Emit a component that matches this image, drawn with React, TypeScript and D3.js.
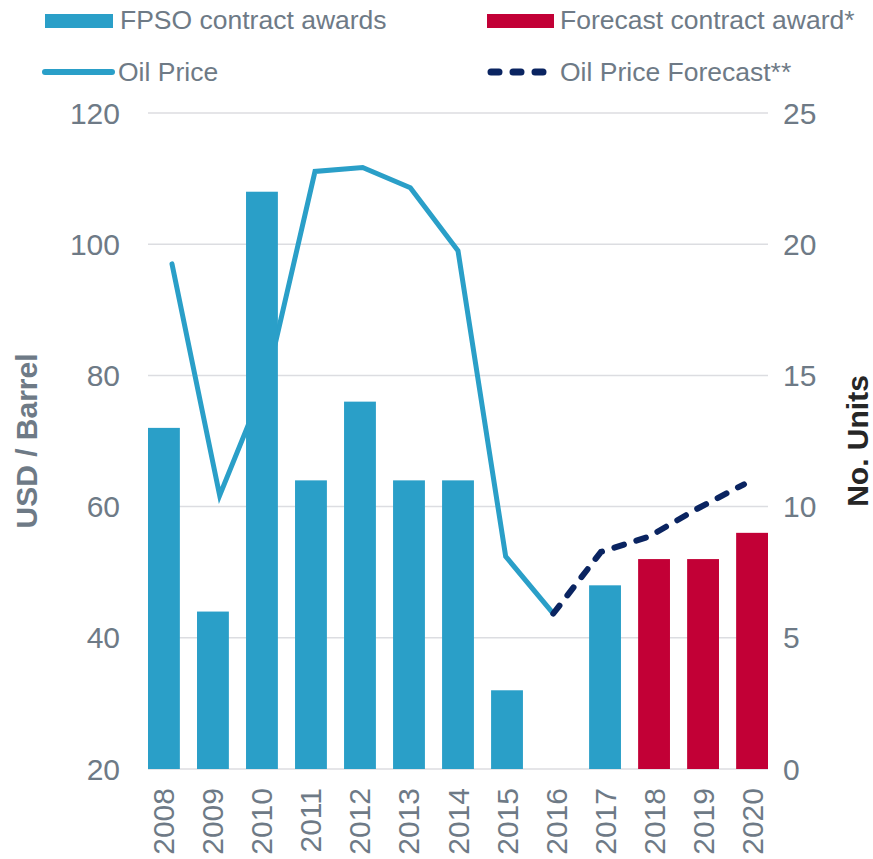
import React, { useEffect, useRef } from 'react'
import * as d3 from 'd3'

const years = ['2008', '2009', '2010', '2011', '2012', '2013', '2014', '2015', '2016', '2017', '2018', '2019', '2020']
const awardYears = ['2008', '2009', '2010', '2011', '2012', '2013', '2014', '2015', '2016', '2017']
const awards = [13, 6, 22, 11, 14, 11, 11, 3, 0, 7]
const forecastAwardYears = ['2018', '2019', '2020']
const forecastAwards = [8, 8, 9]
const oilYears = ['2008', '2009', '2010', '2011', '2012', '2013', '2014', '2015', '2016']
const oilPrice = [97.0, 61.7, 79.6, 111.1, 111.7, 108.6, 99.0, 52.4, 43.7]
const oilForecastYears = ['2016', '2017', '2018', '2019', '2020']
const oilForecast = [43.7, 53.1, 55.4, 59.6, 63.4]
const priceTicks = [20, 40, 60, 80, 100, 120]
const unitTicks = [0, 5, 10, 15, 20, 25]

const BLUE = '#2a9fc8'
const RED = '#c20036'
const NAVY = '#0a2461'
const GREY = '#6e7a86'
const GRID = '#dcdde1'
const FONT = '"Liberation Sans", Arial, sans-serif'

export default function App() {
  const ref = useRef(null)

  useEffect(() => {
    const svg = d3.select(ref.current)
    svg.selectAll('*').remove()

    const yPrice = d3.scaleLinear().domain([20, 120]).range([769, 113])
    const yUnits = d3.scaleLinear().domain([0, 25]).range([769, 113])
    const x = d3.scaleBand().domain(years).range([148, 768]).paddingInner(0.35).paddingOuter(0)
    const xLine = d3.scalePoint().domain(years).range([172, 744])

    // gridlines
    svg
      .append('g')
      .selectAll('line')
      .data(priceTicks)
      .enter()
      .append('line')
      .attr('x1', 148)
      .attr('x2', 768)
      .attr('y1', d => yPrice(d))
      .attr('y2', d => yPrice(d))
      .attr('stroke', GRID)
      .attr('stroke-width', 1.5)

    // axis labels
    svg
      .append('g')
      .selectAll('text')
      .data(priceTicks)
      .enter()
      .append('text')
      .attr('x', 120)
      .attr('y', d => yPrice(d))
      .attr('dy', '0.35em')
      .attr('text-anchor', 'end')
      .attr('font-size', 30)
      .attr('font-family', FONT)
      .attr('fill', GREY)
      .text(d => d)

    svg
      .append('g')
      .selectAll('text')
      .data(unitTicks)
      .enter()
      .append('text')
      .attr('x', 783)
      .attr('y', d => yUnits(d))
      .attr('dy', '0.35em')
      .attr('font-size', 30)
      .attr('font-family', FONT)
      .attr('fill', GREY)
      .text(d => d)

    svg
      .append('g')
      .selectAll('text')
      .data(years)
      .enter()
      .append('text')
      .attr('transform', d => `translate(${x(d) + x.bandwidth() / 2}, 788) rotate(-90)`)
      .attr('dy', '0.35em')
      .attr('text-anchor', 'end')
      .attr('font-size', 30)
      .attr('font-family', FONT)
      .attr('fill', GREY)
      .text(d => d)

    svg
      .append('text')
      .attr('transform', 'translate(26, 441) rotate(-90)')
      .attr('dy', '0.35em')
      .attr('text-anchor', 'middle')
      .attr('font-size', 30)
      .attr('font-weight', 'bold')
      .attr('font-family', FONT)
      .attr('fill', GREY)
      .text('USD / Barrel')

    svg
      .append('text')
      .attr('transform', 'translate(857, 441) rotate(-90)')
      .attr('dy', '0.35em')
      .attr('text-anchor', 'middle')
      .attr('font-size', 30)
      .attr('font-weight', 'bold')
      .attr('font-family', FONT)
      .attr('fill', '#262626')
      .text('No. Units')

    // oil price line (behind bars)
    const line = d3
      .line()
      .x(d => xLine(d[0]))
      .y(d => yPrice(d[1]))

    svg
      .append('path')
      .attr('d', line(d3.zip(oilYears, oilPrice)))
      .attr('fill', 'none')
      .attr('stroke', BLUE)
      .attr('stroke-width', 5)
      .attr('stroke-linecap', 'round')
      .attr('stroke-linejoin', 'miter')

    // bars
    svg
      .append('g')
      .selectAll('rect')
      .data(d3.zip(awardYears, awards))
      .enter()
      .append('rect')
      .attr('x', d => x(d[0]))
      .attr('width', x.bandwidth())
      .attr('y', d => yUnits(d[1]))
      .attr('height', d => yUnits(0) - yUnits(d[1]))
      .attr('fill', BLUE)

    svg
      .append('g')
      .selectAll('rect')
      .data(d3.zip(forecastAwardYears, forecastAwards))
      .enter()
      .append('rect')
      .attr('x', d => x(d[0]))
      .attr('width', x.bandwidth())
      .attr('y', d => yUnits(d[1]))
      .attr('height', d => yUnits(0) - yUnits(d[1]))
      .attr('fill', RED)

    svg
      .append('path')
      .attr('d', line(d3.zip(oilForecastYears, oilForecast)))
      .attr('fill', 'none')
      .attr('stroke', NAVY)
      .attr('stroke-width', 6)
      .attr('stroke-linecap', 'round')
      .attr('stroke-dasharray', '10 13')

    // legend
    const legend = svg.append('g').attr('font-family', FONT).attr('font-size', 26.5).attr('fill', GREY)
    legend.append('rect').attr('x', 45).attr('y', 14).attr('width', 68).attr('height', 14).attr('fill', BLUE)
    legend.append('text').attr('x', 120).attr('y', 29).text('FPSO contract awards')
    legend.append('rect').attr('x', 487).attr('y', 14).attr('width', 67).attr('height', 14).attr('fill', RED)
    legend.append('text').attr('x', 560).attr('y', 29).text('Forecast contract award*')
    legend
      .append('line')
      .attr('x1', 45)
      .attr('x2', 112)
      .attr('y1', 72)
      .attr('y2', 72)
      .attr('stroke', BLUE)
      .attr('stroke-width', 6)
      .attr('stroke-linecap', 'round')
    legend.append('text').attr('x', 118).attr('y', 81).text('Oil Price')
    legend
      .append('line')
      .attr('x1', 491)
      .attr('x2', 551)
      .attr('y1', 72)
      .attr('y2', 72)
      .attr('stroke', NAVY)
      .attr('stroke-width', 7)
      .attr('stroke-linecap', 'round')
      .attr('stroke-dasharray', '8 14')
    legend.append('text').attr('x', 560).attr('y', 81).text('Oil Price Forecast**')
  }, [])

  return (
    <svg
      width="873"
      height="859"
      ref={ref}
      style={{ position: 'absolute', left: 0, top: 0, background: '#fff' }}
    />
  )
}
